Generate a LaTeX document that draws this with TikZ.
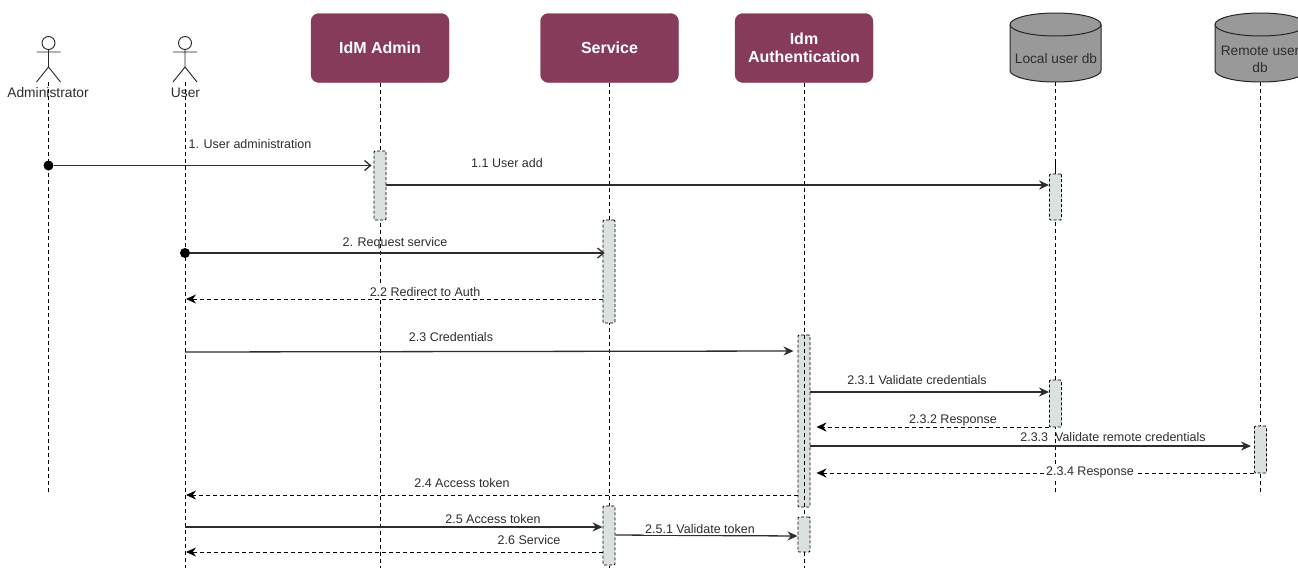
\documentclass[tikz,border=0pt]{standalone}
\usepackage{fontspec}
\setmainfont{Liberation Sans}
\usetikzlibrary{arrows.meta}
\definecolor{boxwine}{RGB}{134,59,90}
\definecolor{dbgray}{RGB}{153,153,153}
\definecolor{actgray}{RGB}{219,225,224}
\definecolor{inkgray}{RGB}{45,45,45}
\tikzset{
  lifebox/.style={draw=boxwine, fill=boxwine, rounded corners=8pt, minimum width=138pt, minimum height=69pt,
    text=white, align=center, inner sep=0pt, font=\fontsize{16}{18}\selectfont\bfseries},
  dbshape/.style={draw=black!85, line width=1pt, fill=dbgray},
  dblabel/.style={align=center, text=inkgray, inner sep=0pt, font=\fontsize{13.7}{17}\selectfont},
  actorlabel/.style={text=inkgray, inner sep=0pt, font=\fontsize{13.8}{17}\selectfont},
  lifeline/.style={black, line width=0.9pt, dash pattern=on 4pt off 3pt},
  actbox/.style={draw=black, dash pattern=on 3pt off 2pt, fill=actgray, rounded corners=1pt, line width=0.9pt, inner sep=0pt, minimum width=12pt},
  dotnode/.style={circle, fill=black, inner sep=0pt, minimum size=10pt},
  msg/.style={draw=inkgray, line width=1.3pt, -{Stealth[length=10pt,width=9pt]}},
  openmsg/.style={draw=inkgray, line width=1.3pt, -{Straight Barb[length=6pt,width=10pt]}},
  backmsg/.style={draw=black, line width=0.9pt, dash pattern=on 4pt off 3pt, -{Stealth[length=10pt,width=9pt]}},
  msglabel/.style={text=inkgray, inner sep=1pt, font=\fontsize{12.5}{15}\selectfont},
  cutlabel/.style={msglabel, fill=white}
}
\begin{document}
\begin{tikzpicture}[x=1pt, y=-1pt]
  \useasboundingbox (0,0) rectangle (1298,568);
  % Header boxes
  \node[lifebox] (admin) at (380,48) {\raisebox{-1pt}{IdM Admin}};
  \node[lifebox] (service) at (609.5,48) {\raisebox{-1pt}{Service}};
  \node[lifebox] (auth) at (804,48) {Idm\\Authentication};
  % Databases
  \foreach \name/\posx in {localdb/1055.5, remotedb/1260.5} {
    \coordinate (\name) at (\posx,82);
    \draw[dbshape] (\posx-45.5,24.5) arc[start angle=180, end angle=0, x radius=45.5pt, y radius=11.5pt]
      -- (\posx+45.5,70.5) arc[start angle=0, end angle=-180, x radius=45.5pt, y radius=11.5pt] -- cycle;
    \draw[draw=black!85, line width=1pt] (\posx-45.5,24.5) arc[start angle=180, end angle=360, x radius=45.5pt, y radius=11.5pt];
  }
  \node[dblabel] (locallabel) at (1056,58.5) {Local user db};
  \node[dblabel] (remotelabel) at (1260,59) {Remote user\\db};
  % Actors
  \foreach \name/\posx in {adminactor/48.5, useractor/185} {
    \coordinate (\name) at (\posx,82);
    \draw[black!85, line width=0.9pt] (\posx,43) circle (6.5pt);
    \draw[black!85, line width=0.9pt] (\posx,49.5) -- (\posx,67) (\posx-12,52) -- (\posx+12,52)
      (\posx-12,82) -- (\posx,67) -- (\posx+12,82);
  }
  % Lifeline ends
  \coordinate (adminactorend) at (48.5,492);
  \coordinate (useractorend) at (185,568);
  \coordinate (adminend) at (380,568);
  \coordinate (serviceend) at (609.5,568);
  \coordinate (authend) at (804,568);
  \coordinate (localend) at (1055.5,492);
  \coordinate (remoteend) at (1260.5,495);
  \coordinate (localstub) at (1055.5,162);
  % Lifelines
  \draw[lifeline] (adminactor) -- (adminactorend);
  \draw[lifeline] (useractor) -- (useractorend);
  \draw[lifeline] (admin.south) -- (adminend);
  \draw[lifeline] (service.south) -- (serviceend);
  \draw[lifeline] (auth.south) -- (authend);
  \draw[lifeline] (localdb) -- (localend);
  \draw[lifeline] (remotedb) -- (remoteend);
  \node[actorlabel] (adminactorlabel) at (48,92.5) {Administrator};
  \node[actorlabel] (useractorlabel) at (185.5,92.5) {User};
  % Activation bars
  \node[actbox, minimum height=69pt] (actadmin) at (380,185.5) {};
  \node[actbox, minimum height=46pt] (actlocal) at (1055.5,197) {};
  \node[actbox, minimum height=103pt] (actservice) at (609,271.5) {};
  \node[actbox, minimum height=172pt] (actauth) at (804,421) {};
  \node[actbox, minimum height=47pt] (actlocaltwo) at (1055.5,403.5) {};
  \node[actbox, minimum height=47pt] (actremote) at (1260.5,449.5) {};
  \node[actbox, minimum height=59pt] (actservicetwo) at (609,535.5) {};
  \node[actbox, minimum height=35pt] (actauthtwo) at (804,534.5) {};
  \draw[lifeline] (actauth.north) -- (actauth.south);
  \draw[black, line width=0.9pt] (localstub) -- (actlocal.north);
  % Dots
  \node[dotnode] (dotadmin) at (48.5,165.5) {};
  \node[dotnode] (dotuser) at (185,253) {};
  % Calls
  \draw[openmsg] (dotadmin) -- ([xshift=-2pt]actadmin.west |- 0,165.5);
  \draw[msg] (actadmin.east |- 0,185) -- (actlocal.west |- 0,185);
  \draw[openmsg] (dotuser) -- ([xshift=2pt]actservice.west |- 0,253);
  \draw[msg] (185,352) -- ([xshift=-4pt]actauth.west |- 0,351);
  \draw[msg] (actauth.east |- 0,392) -- (actlocaltwo.west |- 0,392);
  \draw[msg] (actauth.east |- 0,446) -- ([xshift=-3pt]actremote.west |- 0,446);
  \draw[msg] (185,527) -- (actservicetwo.west |- 0,527);
  \draw[msg] (actservicetwo.east |- 0,535) -- (actauthtwo.west |- 0,536);
  % Returns
  \draw[backmsg] (actservice.west |- 0,299) -- (186,299);
  \draw[backmsg] (actlocaltwo.west |- 0,427) -- ([xshift=6pt]actauth.east |- 0,427);
  \draw[backmsg] (actremote.west |- 0,473) -- ([xshift=6pt]actauth.east |- 0,473);
  \draw[backmsg] (actauth.west |- 0,495) -- (186,495);
  \draw[backmsg] (actservicetwo.west |- 0,552) -- (186,552);
  % Labels
  \node[msglabel] (lblone) at (250,144) {1. User administration};
  \node[msglabel] (lbladd) at (507,163.5) {1.1 User add};
  \node[msglabel] (lblrequest) at (395,243) {2. Request service};
  \node[cutlabel] (lblredirect) at (425,292) {2.2 Redirect to Auth};
  \node[msglabel] (lblcred) at (451,337) {2.3 Credentials};
  \node[msglabel] (lblvalidate) at (917,380.5) {2.3.1 Validate credentials};
  \node[cutlabel] (lblresp) at (953,420) {2.3.2 Response};
  \node[msglabel] (lblremote) at (1113,437.5) {2.3.3\ \ Validate remote credentials};
  \node[cutlabel] (lblrespremote) at (1090,472) {2.3.4 Response};
  \node[msglabel] (lblaccess) at (462,483.5) {2.4 Access token};
  \node[msglabel] (lblaccessb) at (493,519.5) {2.5 Access token};
  \node[msglabel] (lblservice) at (529,540.5) {2.6 Service};
  \node[cutlabel] (lbltoken) at (700,529) {2.5.1 Validate token};
\end{tikzpicture}
\end{document}
